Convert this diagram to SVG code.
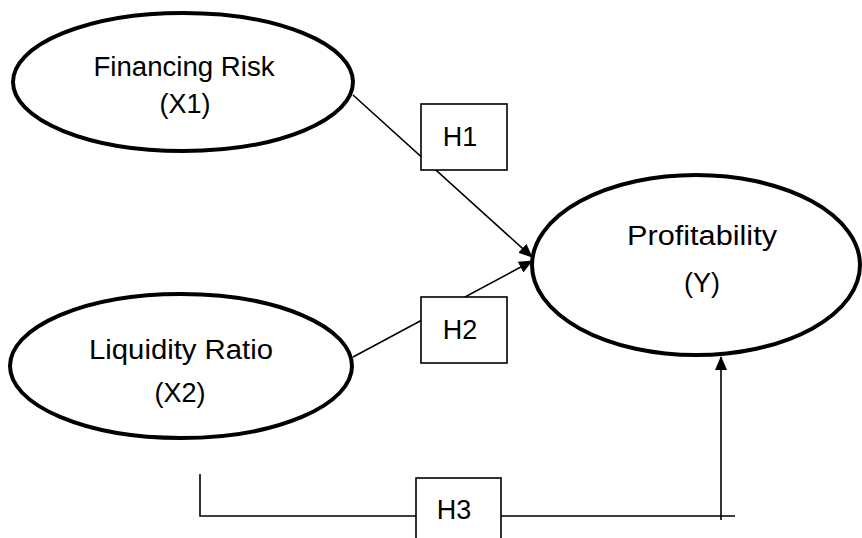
<svg xmlns="http://www.w3.org/2000/svg" width="862" height="538" viewBox="0 0 862 538">
<style>
.node{fill:#fff;stroke:#000;stroke-width:4}
.box{fill:#fff;stroke:#000;stroke-width:1.6}
.ln{fill:none;stroke:#000;stroke-width:1.6}
text{font-family:"Liberation Sans",Arial,sans-serif;font-size:27px;fill:#000;text-anchor:middle}
</style>
<defs>
<marker id="arr" markerWidth="14" markerHeight="12" refX="13" refY="6" orient="auto" markerUnits="userSpaceOnUse">
<path d="M0,0 L14,6 L0,12 Z" fill="#000"/>
</marker>
</defs>
<rect width="862" height="538" fill="#fff"/>
<g id="connectors">
<line class="ln" x1="353" y1="95" x2="532" y2="257" marker-end="url(#arr)"/>
<line class="ln" x1="353" y1="357" x2="532" y2="261" marker-end="url(#arr)"/>
<polyline class="ln" points="200,474 200,516 735,516"/>
<line class="ln" x1="721" y1="520" x2="721" y2="357" marker-end="url(#arr)"/>
</g>
<g id="x1">
<ellipse class="node" cx="183" cy="82" rx="170" ry="69"/>
<text x="184" y="76" textLength="181" lengthAdjust="spacingAndGlyphs">Financing Risk</text>
<text x="185" y="113">(X1)</text>
</g>
<g id="x2">
<ellipse class="node" cx="181" cy="366" rx="171" ry="72"/>
<text x="181" y="359" textLength="184" lengthAdjust="spacingAndGlyphs">Liquidity Ratio</text>
<text x="180" y="402">(X2)</text>
</g>
<g id="y">
<ellipse class="node" cx="696" cy="265" rx="164" ry="90"/>
<text x="702" y="245" textLength="150" lengthAdjust="spacingAndGlyphs">Profitability</text>
<text x="702" y="292">(Y)</text>
</g>
<g id="h1">
<rect class="box" x="421" y="104" width="86" height="66"/>
<text x="460" y="146">H1</text>
</g>
<g id="h2">
<rect class="box" x="421" y="297" width="86" height="66"/>
<text x="460" y="339">H2</text>
</g>
<g id="h3">
<rect class="box" x="416" y="478" width="85" height="70"/>
<text x="454" y="519">H3</text>
</g>
</svg>
